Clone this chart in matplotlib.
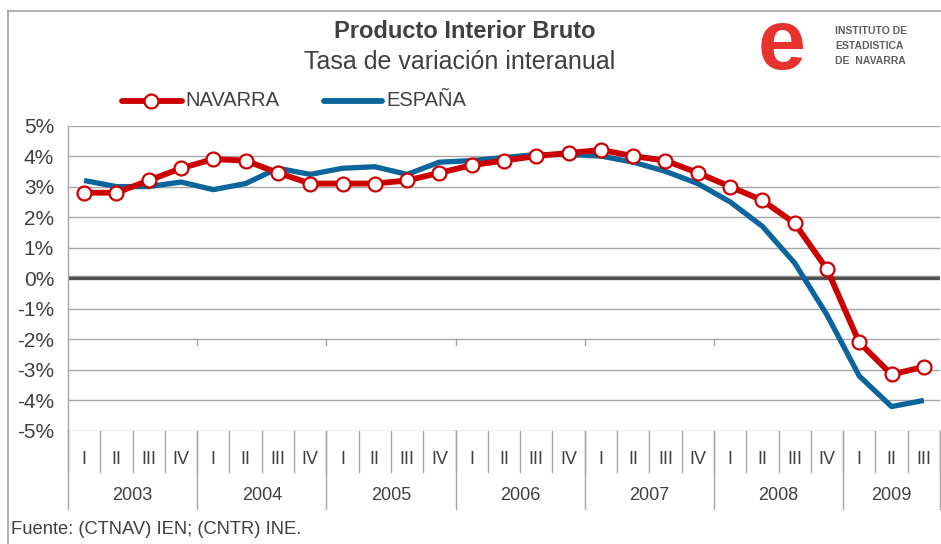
import matplotlib
matplotlib.use('Agg')
import matplotlib.pyplot as plt
from matplotlib.lines import Line2D
import matplotlib.transforms as mtransforms

# Datos: tasa de variación interanual del PIB (%)
years = ['2003', '2004', '2005', '2006', '2007', '2008', '2009']
quarters = ['I', 'II', 'III', 'IV'] * 6 + ['I', 'II', 'III']
navarra = [2.8, 2.8, 3.2, 3.6, 3.9, 3.85, 3.45, 3.1,
           3.1, 3.1, 3.2, 3.45, 3.7, 3.85, 4.0, 4.1,
           4.2, 4.0, 3.85, 3.45, 3.0, 2.55, 1.8, 0.3,
           -2.1, -3.15, -2.9]
espana = [3.2, 3.0, 3.0, 3.15, 2.9, 3.1, 3.6, 3.4,
          3.6, 3.65, 3.4, 3.8, 3.85, 3.95, 4.05, 4.05,
          4.0, 3.8, 3.5, 3.1, 2.5, 1.7, 0.5, -1.2,
          -3.2, -4.2, -4.0]
yticks = [5, 4, 3, 2, 1, 0, -1, -2, -3, -4, -5]

RED = '#CC0000'
BLUE = '#0A659C'
GRID = '#A6A6A6'
TXT = '#404040'
plt.rcParams['font.family'] = ['Liberation Sans', 'DejaVu Sans']

W, H = 941, 544
fig = plt.figure(figsize=(W / 100, H / 100), dpi=100)
ax = fig.add_axes([68 / W, 1 - 431 / H, (940 - 68) / W, (431 - 125.5) / H])

x = list(range(len(navarra)))

# rejilla
for v in yticks:
    if v != 0:
        ax.axhline(v, color=GRID, lw=1.0, zorder=1)
ax.axhline(0, color='#8C8C8C', lw=3.2, zorder=2)
ax.axhline(0.02, color='#4D4D4D', lw=2.0, zorder=2)

ax.plot(x, espana, color=BLUE, lw=3.8, solid_capstyle='butt', zorder=3)
ax.plot(x, navarra, color=RED, lw=4.2, marker='o', markersize=10,
        markerfacecolor='white', markeredgecolor=RED, markeredgewidth=1.6,
        zorder=4)

ax.set_xlim(-0.5, len(navarra) - 0.5)
ax.set_ylim(-5, 5)
ax.set_yticks(yticks)
ax.set_yticklabels([f'{v}%' for v in yticks], fontsize=15, color=TXT)
ax.tick_params(axis='y', length=0, pad=10)
ax.set_xticks([])
for s in ['top', 'right', 'bottom']:
    ax.spines[s].set_visible(False)
ax.spines['left'].set_color(GRID)
ax.spines['left'].set_linewidth(1.0)

# eje de categorías (trimestres y años)
tr = mtransforms.blended_transform_factory(ax.transData, ax.transAxes)
qdepth = -41 / 306
ydepth = -78 / 306
for i in range(len(quarters) + 1):
    ax.add_line(Line2D([i - 0.5, i - 0.5], [0, qdepth], transform=tr,
                       color=GRID, lw=1.0, clip_on=False))
for i, q in enumerate(quarters):
    ax.text(i, -29 / 306, q, transform=tr, ha='center', va='center',
            fontsize=13, color=TXT)
start = 0
for yr in years:
    n = quarters[start:].index('I', 1) if 'I' in quarters[start + 1:] else len(quarters) - start
    ax.add_line(Line2D([start - 0.5, start - 0.5], [0, ydepth], transform=tr,
                       color=GRID, lw=1.0, clip_on=False))
    ax.text(start + (n - 1) / 2, -65 / 306, yr, transform=tr, ha='center',
            va='center', fontsize=13, color=TXT)
    if start > 0:
        ax.add_line(Line2D([start - 0.5, start - 0.5], [-2, -2.2],
                           color=GRID, lw=1.0, zorder=1))
    start += n
ax.add_line(Line2D([start - 0.5, start - 0.5], [0, ydepth], transform=tr,
                   color=GRID, lw=1.0, clip_on=False))

# marco exterior
fig.add_artist(Line2D([8 / W, 8 / W], [0, 1 - 11 / H], color='#A0A0A0', lw=1.2))
fig.add_artist(Line2D([8 / W, 1], [1 - 11 / H, 1 - 11 / H], color='#A0A0A0', lw=1.2))

# títulos
fig.text(465 / W, 1 - 32 / H, 'Producto Interior Bruto', ha='center',
         va='center', fontsize=17, fontweight='bold', color=TXT)
fig.text(460 / W, 1 - 62 / H, 'Tasa de variación interanual', ha='center',
         va='center', fontsize=18, color=TXT)

# leyenda
ly = 1 - 101 / H
fig.add_artist(Line2D([122 / W, 182 / W], [ly, ly], color=RED, lw=4.2,
                      solid_capstyle='round'))
fig.add_artist(Line2D([151 / W], [ly], color=RED, marker='o', markersize=10,
                      markerfacecolor='white', markeredgecolor=RED,
                      markeredgewidth=1.6))
fig.text(185 / W, ly, 'NAVARRA', ha='left', va='center', fontsize=14.5,
         color=TXT)
fig.add_artist(Line2D([324 / W, 382 / W], [ly, ly], color=BLUE, lw=4.2,
                      solid_capstyle='round'))
fig.text(386 / W, ly, 'ESPAÑA', ha='left', va='center', fontsize=14.5,
         color=TXT)

# logotipo
fig.text(782 / W, 1 - 47 / H, 'e', ha='center', va='center', fontsize=62,
         fontweight='bold', color='#E8322D')
for k, line in enumerate(['INSTITUTO DE', 'ESTADISTICA', 'DE  NAVARRA']):
    fig.text(835 / W, 1 - (31 + k * 15) / H, line, ha='left', va='center',
             fontsize=7.5, fontweight='bold', color='#606060')

# fuente
fig.text(11 / W, 1 - 530 / H, 'Fuente: (CTNAV) IEN; (CNTR) INE.', ha='left',
         va='center', fontsize=13.2, color=TXT)

fig.savefig('out.png', dpi=100)
